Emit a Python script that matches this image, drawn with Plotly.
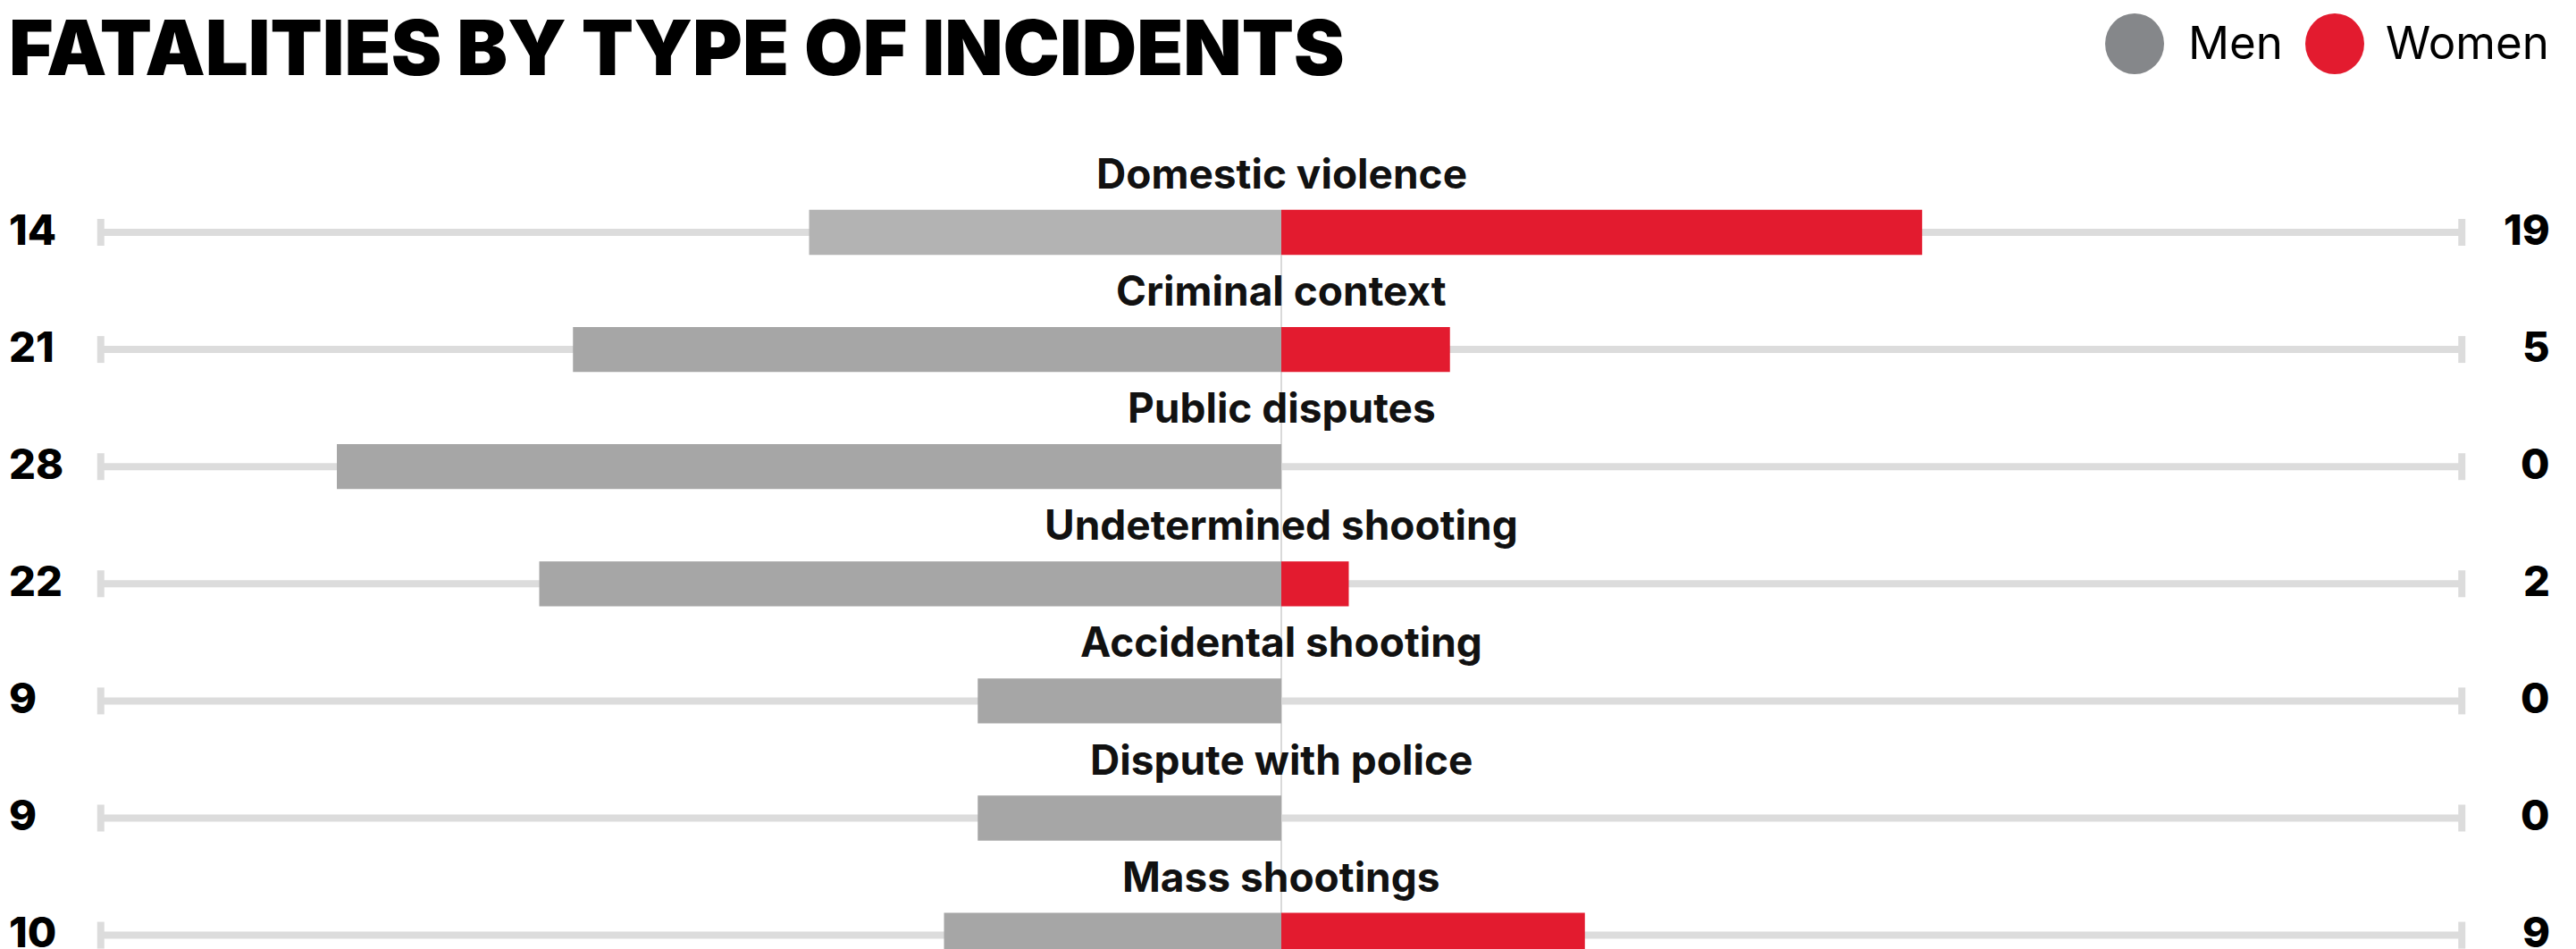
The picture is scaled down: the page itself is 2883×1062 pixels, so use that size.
import plotly.graph_objects as go

# ---- data ----
categories = ["Domestic violence", "Criminal context", "Public disputes",
              "Undetermined shooting", "Accidental shooting",
              "Dispute with police", "Mass shootings"]
men = [14, 21, 28, 22, 9, 9, 10]
women = [19, 5, 0, 2, 0, 0, 9]
series_names = ["Men", "Women"]
title_text = "FATALITIES BY TYPE OF INCIDENTS"
scale_max = 35  # extent of the background track (in fatalities)

# ---- style ----
W, H = 2883, 1062
OFF = 8  # page body margin in the browser
MEN_COLOR = "#a6a6a6"
MEN_HILITE = "#b3b3b3"
WOMEN_COLOR = "#e31b2f"
TRACK_COLOR = "#dcdcdc"
LEGEND_MEN = "#85878a"
LEGEND_WOMEN = "#e31b2f"
BAR_W = 0.384
LABEL_FONT = "Inter, Lato, 'Noto Sans', sans-serif"

men_colors = [MEN_HILITE if i == 0 else MEN_COLOR for i in range(len(categories))]

fig = go.Figure()

fig.add_trace(go.Bar(
    y=categories, x=[-v for v in men], orientation="h", base=0,
    width=BAR_W, marker=dict(color=men_colors, line=dict(width=0)),
    name=series_names[0], showlegend=False, hoverinfo="skip"))
fig.add_trace(go.Bar(
    y=categories, x=women, orientation="h", base=0,
    width=BAR_W, marker=dict(color=WOMEN_COLOR, line=dict(width=0)),
    name=series_names[1], showlegend=False, hoverinfo="skip"))

shapes = []
annotations = []
n = len(categories)
for i, cat in enumerate(categories):
    # track
    shapes.append(dict(type="line", xref="x", yref="y", layer="below",
                       x0=-scale_max, x1=scale_max, y0=i, y1=i,
                       line=dict(color=TRACK_COLOR, width=8)))
    # end caps
    for side in (-1, 1):
        shapes.append(dict(type="line", xref="x", yref="y", layer="below",
                           x0=side * scale_max, x1=side * scale_max,
                           ysizemode="pixel", yanchor=i, y0=-15, y1=15,
                           line=dict(color=TRACK_COLOR, width=8)))
    # category label
    annotations.append(dict(x=0, y=cat, xref="x", yref="y", text=cat,
                            showarrow=False, xanchor="center", yanchor="middle",
                            yshift=66,
                            font=dict(family=LABEL_FONT, size=46, color="#111111",
                                      weight=700)))
    # left / right values
    annotations.append(dict(x=0, y=cat, xref="paper", yref="y",
                            text=str(men[i]), showarrow=False,
                            xanchor="left", yanchor="middle", yshift=4,
                            font=dict(family=LABEL_FONT, size=47, color="#000000",
                                      weight=800)))
    annotations.append(dict(x=(2856 - OFF) / W, y=cat, xref="paper", yref="y",
                            text=str(women[i]), showarrow=False,
                            xanchor="right", yanchor="middle", yshift=4,
                            font=dict(family=LABEL_FONT, size=47, color="#000000",
                                      weight=800)))

# centre line
shapes.append(dict(type="line", xref="x", yref="y", layer="below",
                   x0=0, x1=0, y0=BAR_W / 2, y1=n + 1,
                   line=dict(color="#d9d9d9", width=2)))

# title
annotations.append(dict(x=0, y=1 - (53 - OFF) / H, xref="paper", yref="paper",
                        text=title_text, showarrow=False,
                        xanchor="left", yanchor="middle",
                        font=dict(family="Inter, Roboto, sans-serif", size=85,
                                  color="#000000", weight=900)))

# legend
for name, col, cx, tx in [(series_names[0], LEGEND_MEN, 2389, 2447),
                          (series_names[1], LEGEND_WOMEN, 2613, 2668)]:
    shapes.append(dict(type="circle", xref="paper", yref="paper",
                       xsizemode="pixel", ysizemode="pixel",
                       xanchor=(cx - OFF) / W, yanchor=1 - (49 - OFF) / H,
                       x0=-33, x1=33, y0=-34, y1=34,
                       fillcolor=col, line=dict(width=0)))
    annotations.append(dict(x=(tx - OFF) / W, y=1 - (48 - OFF) / H,
                            xref="paper", yref="paper",
                            text=name, showarrow=False,
                            xanchor="left", yanchor="middle",
                            font=dict(family=LABEL_FONT, size=51,
                                      color="#000000", weight=400)))

px_per_unit = 37.75
center_px = 1434 - OFF
row0_px = 260 - OFF
row_step = 131.1

fig.update_layout(
    width=W, height=H,
    margin=dict(l=0, r=0, t=0, b=0, pad=0),
    paper_bgcolor="white", plot_bgcolor="white",
    barmode="overlay",
    showlegend=False,
    shapes=shapes, annotations=annotations,
    xaxis=dict(range=[-center_px / px_per_unit, (W - center_px) / px_per_unit],
               showgrid=False, zeroline=False, showticklabels=False,
               showline=False, fixedrange=True),
    yaxis=dict(type="category", categoryorder="array", categoryarray=categories,
               range=[(H - row0_px) / row_step, -row0_px / row_step],
               showgrid=False, zeroline=False, showticklabels=False,
               showline=False, fixedrange=True),
)

fig.write_html("out.html")
